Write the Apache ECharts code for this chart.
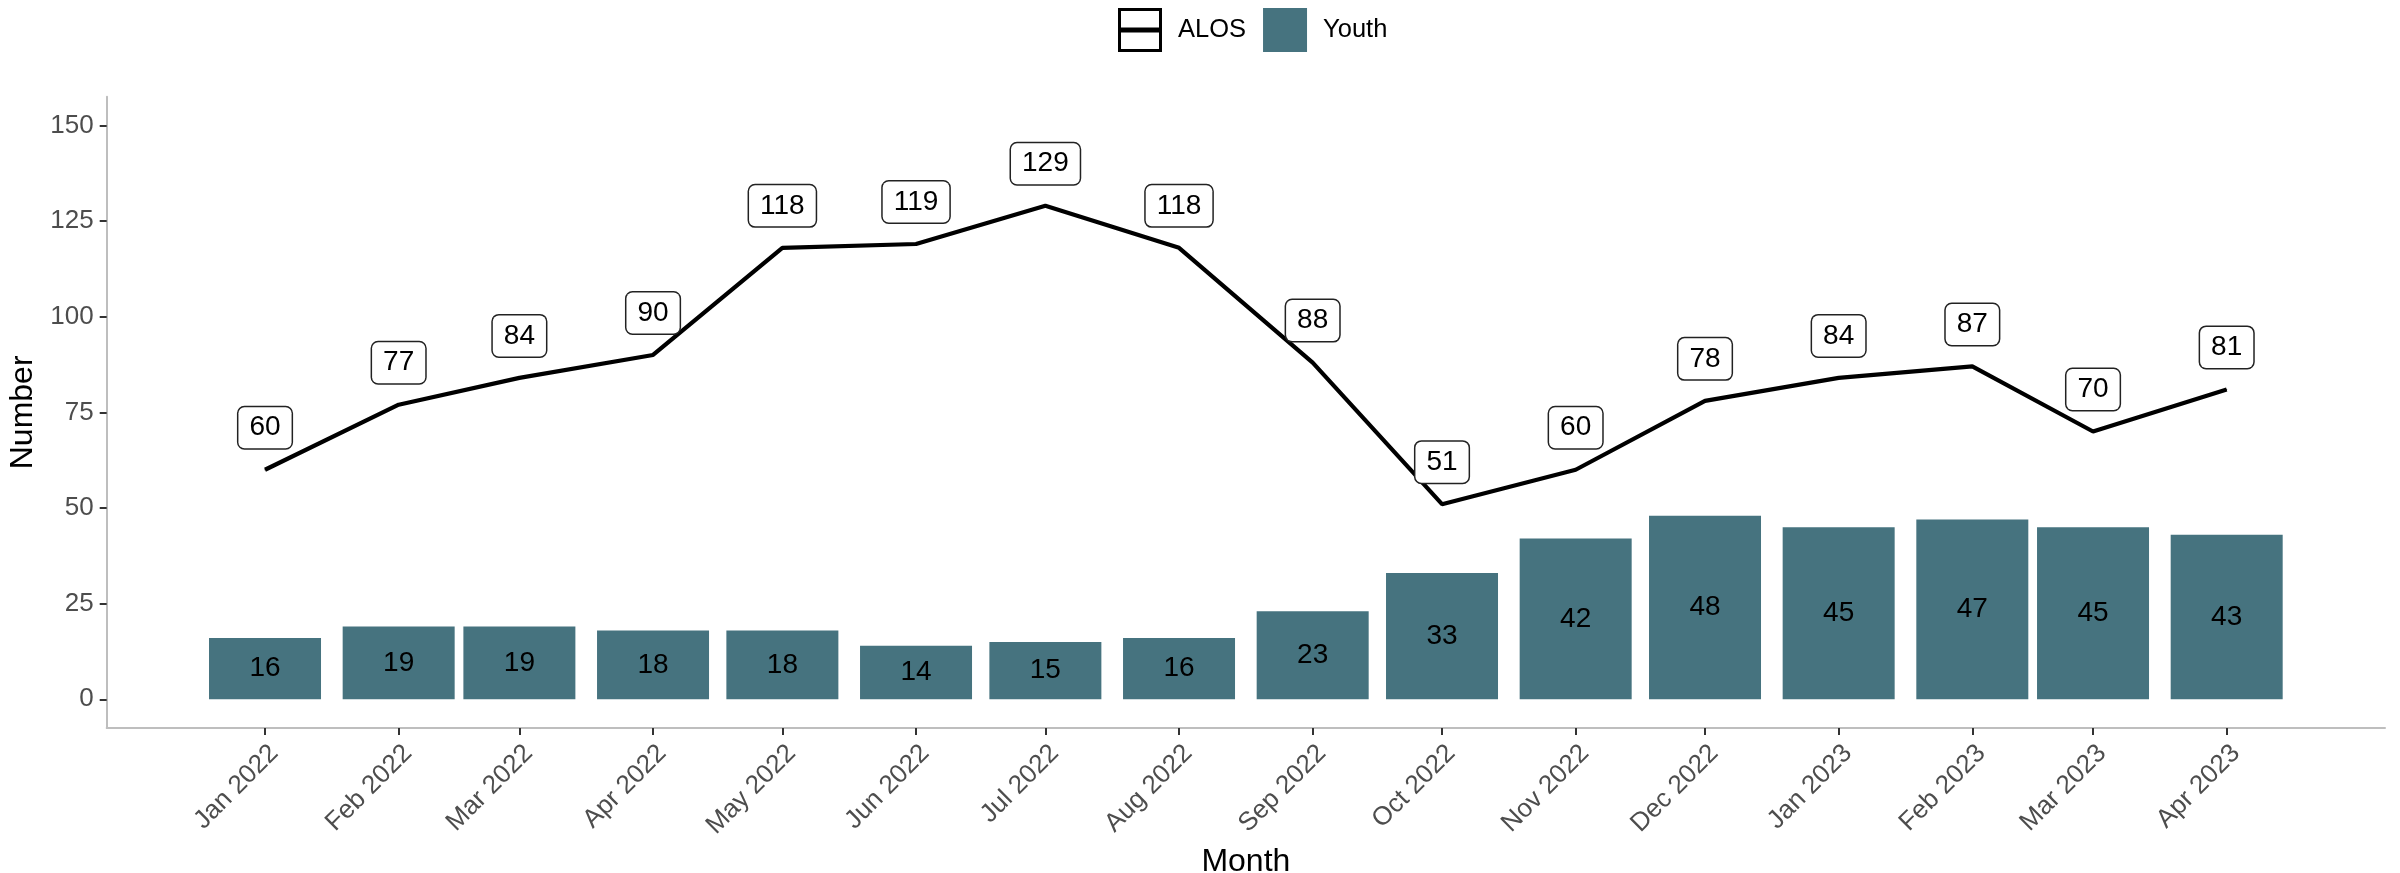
<!DOCTYPE html>
<html>
<head>
<meta charset="utf-8">
<script src="https://cdn.jsdelivr.net/npm/echarts@6/dist/echarts.min.js"></script>
<style>html,body{margin:0;padding:0;background:#fff}#chart{width:2400px;height:873px}</style>
</head>
<body>
<div id="chart"></div>
<script>
// ---- data ----
const months = ['2022-01-01','2022-02-01','2022-03-01','2022-04-01','2022-05-01','2022-06-01','2022-07-01','2022-08-01','2022-09-01','2022-10-01','2022-11-01','2022-12-01','2023-01-01','2023-02-01','2023-03-01','2023-04-01'];
const tickLabels = ['Jan 2022','Feb 2022','Mar 2022','Apr 2022','May 2022','Jun 2022','Jul 2022','Aug 2022','Sep 2022','Oct 2022','Nov 2022','Dec 2022','Jan 2023','Feb 2023','Mar 2023','Apr 2023'];
const alos = [60, 77, 84, 90, 118, 119, 129, 118, 88, 51, 60, 78, 84, 87, 70, 81];
const youth = [16, 19, 19, 18, 18, 14, 15, 16, 23, 33, 42, 48, 45, 47, 45, 43];
const yTicks = [0, 25, 50, 75, 100, 125, 150];

// ---- build ----
const DAY = 86400000;
const t0 = Date.parse(months[0] + 'T00:00:00Z');
// x position = days since the first month (a date scale expressed in days)
const days = months.map(m => Math.round((Date.parse(m + 'T00:00:00Z') - t0) / DAY));
const FONT = '"Liberation Sans", Arial, sans-serif';
const chart = echarts.init(document.getElementById('chart'));

const alosIcon = 'path://M0,0H44V44H0Z M3,3V41H41V3Z M3,19.5H41V24.5H3Z';

chart.setOption({
  animation: false,
  backgroundColor: '#fff',
  textStyle: { fontFamily: FONT },
  legend: {
    left: 1118, top: 8, padding: 0,
    itemWidth: 44, itemHeight: 44, itemGap: 17,
    textStyle: { fontSize: 25.5, color: '#000', fontFamily: FONT, padding: [0, 0, 0, 11] },
    data: [
      { name: 'ALOS', icon: alosIcon, itemStyle: { color: '#000', borderWidth: 0 } },
      { name: 'Youth', icon: 'rect', itemStyle: { borderWidth: 0 } }
    ]
  },
  grid: { left: 106.7, right: 15, top: 96.7, bottom: 145, containLabel: false, outerBoundsMode: 'none' },
  xAxis: {
    type: 'value',
    min: days[0] - 36.72,
    max: days[days.length - 1] + 36.72,
    name: 'Month', nameLocation: 'middle', nameGap: 112,
    nameTextStyle: { fontSize: 32, color: '#000', fontFamily: FONT },
    axisLine: { onZero: false, lineStyle: { color: '#BEBEBE', width: 2 } },
    axisTick: { show: true, customValues: days, length: 7, lineStyle: { color: '#333333', width: 2 } },
    axisLabel: {
      customValues: days, rotate: 45, align: 'right', verticalAlign: 'top', margin: 12,
      fontSize: 26, color: '#4D4D4D', fontFamily: FONT,
      formatter: function (v) { const i = days.indexOf(Math.round(v)); return i >= 0 ? tickLabels[i] : ''; }
    },
    splitLine: { show: false }
  },
  yAxis: {
    type: 'value', min: -7.5, max: 157.5,
    name: 'Number', nameLocation: 'middle', nameGap: 57,
    nameTextStyle: { fontSize: 32, color: '#000', fontFamily: FONT },
    axisLine: { show: true, onZero: false, lineStyle: { color: '#BEBEBE', width: 2 } },
    axisTick: { show: true, customValues: yTicks, length: 7, lineStyle: { color: '#333333', width: 2 } },
    axisLabel: { customValues: yTicks, margin: 13, fontSize: 26, color: '#4D4D4D', fontFamily: FONT },
    splitLine: { show: false }
  },
  series: [
    {
      name: 'Youth', type: 'bar', barWidth: 112, z: 1,
      itemStyle: { color: '#46737F' },
      label: { show: true, position: 'inside', fontSize: 28, color: '#000', fontFamily: FONT },
      data: days.map((d, i) => [d, youth[i]])
    },
    {
      name: 'ALOS', type: 'line', z: 3,
      symbol: 'circle', symbolSize: 1, showSymbol: true,
      itemStyle: { color: '#000' },
      lineStyle: { color: '#000', width: 4.2 },
      label: {
        show: true, position: 'top', distance: 21,
        fontSize: 28, color: '#000', fontFamily: FONT, lineHeight: 29,
        backgroundColor: '#fff', borderColor: '#222', borderWidth: 1.5, borderRadius: 6,
        padding: [6, 11, 6, 11]
      },
      data: days.map((d, i) => [d, alos[i]])
    }
  ]
});
</script>
</body>
</html>
